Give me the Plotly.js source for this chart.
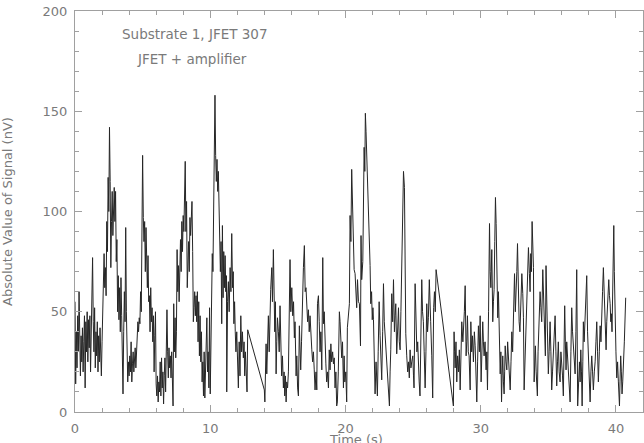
<!DOCTYPE html>
<html>
<head>
<meta charset="utf-8">
<script src="https://cdn.plot.ly/plotly-3.0.1.min.js"></script>
<style>html,body{margin:0;padding:0;background:#fff;}#chart{width:644px;height:443px;}</style>
</head>
<body>
<div id="chart"></div>
<script>
// Time (s)
const timeS = [
0.00,0.05,0.10,0.15,0.20,0.25,0.30,0.35,0.40,0.45,0.50,0.55,0.60,0.65,0.70,0.75,0.80,0.85,0.90,0.95,
1.00,1.05,1.10,1.15,1.20,1.25,1.30,1.35,1.40,1.45,1.50,1.55,1.60,1.65,1.70,1.75,1.80,1.85,1.90,1.95,
2.00,2.05,2.10,2.15,2.20,2.25,2.30,2.35,2.40,2.45,2.50,2.55,2.60,2.65,2.70,2.75,2.80,2.85,2.90,2.95,
3.00,3.05,3.10,3.15,3.20,3.25,3.30,3.35,3.40,3.45,3.50,3.55,3.60,3.65,3.70,3.75,3.80,3.85,3.90,3.95,
4.00,4.05,4.10,4.15,4.20,4.25,4.30,4.35,4.40,4.45,4.50,4.55,4.60,4.65,4.70,4.75,4.80,4.85,4.90,4.95,
5.00,5.05,5.10,5.15,5.20,5.25,5.30,5.35,5.40,5.45,5.50,5.55,5.60,5.65,5.70,5.75,5.80,5.85,5.90,5.95,
6.00,6.05,6.10,6.15,6.20,6.25,6.30,6.35,6.40,6.45,6.50,6.55,6.60,6.65,6.70,6.75,6.80,6.85,6.90,6.95,
7.00,7.05,7.10,7.15,7.20,7.25,7.30,7.35,7.40,7.45,7.50,7.55,7.60,7.65,7.70,7.75,7.80,7.85,7.90,7.95,
8.00,8.05,8.10,8.15,8.20,8.25,8.30,8.35,8.40,8.45,8.50,8.55,8.60,8.65,8.70,8.75,8.80,8.85,8.90,8.95,
9.00,9.05,9.10,9.15,9.20,9.25,9.30,9.35,9.40,9.45,9.50,9.55,9.60,9.65,9.70,9.75,9.80,9.85,9.90,9.95,
10.00,10.05,10.10,10.15,10.20,10.25,10.30,10.35,10.40,10.45,10.50,10.55,10.60,10.65,10.70,10.75,10.80,10.85,10.90,10.95,
11.00,11.05,11.10,11.15,11.20,11.22,11.28,11.34,11.40,11.47,11.53,11.59,11.65,11.70,11.75,11.80,11.85,11.90,11.96,12.02,
12.08,12.14,12.20,12.26,12.32,12.38,12.45,12.50,12.55,12.60,12.66,12.72,12.77,
14.00,14.04,14.08,14.13,14.18,14.23,14.30,14.36,14.42,14.47,14.55,14.60,14.67,14.72,14.77,14.82,14.87,14.92,14.97,15.04,
15.10,15.16,15.22,15.28,15.34,15.41,15.46,15.51,15.56,15.61,15.66,15.72,15.78,15.85,15.90,15.96,16.03,16.10,16.16,16.22,
16.27,16.35,16.40,16.46,16.52,16.59,16.64,16.69,16.75,16.81,16.89,16.96,17.02,17.08,17.14,17.20,17.26,17.32,17.38,17.45,
17.51,17.57,17.63,17.69,17.75,17.82,17.88,17.93,18.00,18.06,18.12,18.18,18.25,18.32,18.37,18.43,18.49,18.55,18.61,18.67,
18.74,18.80,18.86,18.92,18.98,19.05,19.11,19.17,19.23,19.29,19.35,19.40,19.47,19.55,19.60,19.65,19.72,19.78,19.85,19.90,
19.95,20.02,20.09,20.14,20.22,20.29,20.34,20.40,20.46,20.54,20.60,20.64,20.71,20.77,20.83,20.89,20.96,21.03,21.08,21.11,
21.15,21.20,21.28,21.33,21.38,21.43,21.47,21.52,21.57,21.65,21.72,21.82,21.87,21.93,21.98,22.03,22.07,22.13,22.19,22.26,
22.31,22.36,22.42,22.49,22.56,22.62,22.68,22.75,22.81,22.87,22.93,22.99,23.05,23.10,23.17,23.25,23.30,23.35,23.42,23.49,
23.55,23.62,23.67,23.72,23.79,23.85,23.92,23.98,24.04,24.10,24.16,24.22,24.29,24.36,24.41,24.46,24.53,24.60,24.66,24.72,
24.78,24.84,24.90,24.98,25.03,25.07,25.15,25.22,25.28,25.34,25.39,25.45,25.51,25.58,25.64,25.70,25.76,25.82,25.89,25.95,
26.01,26.07,26.13,26.20,26.25,26.30,26.38,26.45,26.52,26.58,26.64,26.70,
27.98,28.03,28.07,28.11,28.17,28.23,28.29,28.36,28.42,28.48,28.54,28.60,28.68,28.73,28.79,28.85,28.92,28.97,29.02,29.08,
29.14,29.22,29.27,29.33,29.39,29.46,29.53,29.59,29.65,29.71,29.77,29.83,29.90,29.96,30.03,30.09,30.15,30.20,30.25,30.32,
30.40,30.45,30.50,30.58,30.65,30.70,30.75,30.82,30.89,30.94,30.99,31.04,31.09,31.14,31.19,31.26,31.31,31.36,31.44,31.49,
31.54,31.58,31.63,31.68,31.73,31.77,31.81,31.87,31.93,31.99,32.05,32.11,32.18,32.24,32.30,32.36,32.42,32.50,32.56,32.62,
32.67,32.72,32.79,32.84,32.90,32.96,33.04,33.11,33.16,33.21,33.28,33.34,33.40,33.47,33.53,33.60,33.65,33.70,33.75,33.80,
33.85,33.90,33.95,34.00,34.04,34.10,34.19,34.24,34.29,34.34,34.39,34.45,34.51,34.59,34.64,34.68,34.73,34.78,34.83,34.88,
34.93,35.00,35.06,35.13,35.19,35.25,35.31,35.38,35.44,35.50,35.56,35.62,35.68,35.74,35.80,35.87,35.93,35.99,36.05,36.11,
36.16,36.21,36.26,36.31,36.36,36.41,36.47,36.53,36.61,36.67,36.73,36.79,36.85,36.92,36.98,37.04,37.10,37.17,37.23,37.30,
37.35,37.40,37.45,37.50,37.55,37.59,37.65,37.72,37.78,37.84,37.90,37.96,38.02,38.09,38.15,38.21,38.27,38.33,38.40,38.46,
38.52,38.58,38.64,38.70,38.77,38.83,38.89,38.95,39.01,39.07,39.13,39.20,39.27,39.32,39.37,39.42,39.47,39.52,39.57,39.62,
39.66,39.71,39.76,39.84,39.88,39.93,40.00,40.06,40.12,40.18,40.26,40.30,40.35,40.40,40.45,40.50,40.55,40.62,40.72
];
// Absolute value of signal (nV)
const signalNV = [
55,14,40,22,48,30,60,35,18,38,25,42,20,35,48,12,45,30,50,25,
46,32,48,20,42,55,77,45,30,52,22,40,28,45,20,38,25,42,30,18,
35,55,60,79,62,72,58,95,80,117,100,142,115,72,95,110,88,108,112,95,
110,75,86,50,68,46,62,40,67,48,30,9,40,60,45,92,50,25,15,25,
18,28,20,35,15,24,30,20,25,32,22,28,38,45,40,47,44,60,50,80,
128,97,85,95,70,92,80,62,78,55,58,40,62,45,52,35,48,20,38,50,
14,8,18,5,15,10,25,8,27,12,20,4,18,27,10,35,51,30,17,32,
22,28,17,30,20,3,54,30,47,27,40,81,60,73,55,78,86,70,95,80,
98,90,105,125,90,105,62,78,85,70,97,88,100,105,80,45,52,60,48,58,
45,60,35,55,28,48,25,40,15,25,8,30,7,20,35,47,20,30,12,52,
9,30,60,79,70,100,130,158,128,115,126,110,120,105,95,70,85,44,93,57,
80,62,78,60,68,10,55,65,50,72,60,89,62,70,44,55,40,30,40,25,
12,35,18,48,30,40,27,35,18,30,20,10,41,
11,5,25,34,19,30,48,30,55,61,72,55,81,67,40,55,19,35,47,40,
30,53,25,18,28,12,20,8,18,5,15,12,20,59,76,50,62,48,55,37,
45,18,28,12,8,43,30,21,35,54,72,83,60,62,50,45,51,40,48,35,
31,25,30,21,11,20,11,54,58,45,30,40,21,77,44,50,31,24,15,20,
12,31,21,34,25,30,24,27,12,20,3,5,20,50,45,39,27,35,12,28,
15,20,5,42,48,54,98,85,121,93,80,71,69,55,52,66,55,54,40,33,
88,66,75,98,132,120,149,140,130,108,91,73,54,60,46,52,46,25,9,25,
15,8,30,55,38,25,16,40,64,45,38,30,28,16,10,3,20,31,59,45,
66,40,48,54,29,40,52,35,31,50,74,95,120,112,72,39,28,20,25,17,
31,22,25,28,18,12,64,45,30,35,21,15,8,30,66,50,45,30,12,30,
54,40,47,66,59,45,28,7,52,60,50,71,
3,40,30,22,35,15,28,20,31,11,25,45,35,40,50,63,28,35,48,30,
28,11,45,30,38,25,40,33,20,5,25,43,30,48,15,30,45,35,28,35,
21,30,11,50,94,70,62,81,45,55,61,85,107,94,80,47,60,45,19,30,
5,18,28,15,9,20,33,25,21,35,27,20,11,25,40,30,48,69,50,59,
70,84,54,45,40,55,69,59,47,11,28,40,60,70,82,69,60,79,70,95,
85,72,15,25,33,20,8,30,45,50,60,52,45,71,60,52,40,28,73,60,
45,19,30,45,30,11,20,28,35,48,30,13,25,35,20,15,30,25,18,8,
30,53,35,21,35,28,20,11,5,30,52,40,31,25,19,40,71,3,20,25,
15,31,20,3,25,45,35,48,55,68,40,28,15,5,20,28,20,11,20,25,
35,45,30,15,30,43,35,54,60,72,55,45,31,45,54,60,66,58,54,45,
49,40,59,93,70,45,30,17,25,15,3,15,28,20,9,15,21,35,57
];
const xTickVals = [0, 10, 20, 30, 40];
const yTickVals = [0, 50, 100, 150, 200];
const noteLines = ["Substrate 1, JFET 307", "JFET + amplifier"];
const xTitle = 'Time (s)';
const yTitle = 'Absolute Value of Signal (nV)';

const axisCol = '#a0a0a0';
const textCol = '#7a7a7a';
const fontFam = '"DejaVu Sans", sans-serif';

const trace = {
  x: timeS, y: signalNV, type: 'scatter', mode: 'lines',
  line: {color: '#262626', width: 1}, hoverinfo: 'skip'
};

const layout = {
  width: 644, height: 443,
  margin: {l: 75, r: 1, t: 11, b: 31, pad: 0},
  paper_bgcolor: '#fff', plot_bgcolor: '#fff',
  showlegend: false,
  font: {family: fontFam, color: textCol, size: 13},
  xaxis: {
    range: [0, 42], showgrid: false, zeroline: false,
    showline: true, linecolor: axisCol, linewidth: 1, mirror: 'ticks',
    ticks: 'inside', ticklen: 7, tickcolor: axisCol, tickwidth: 1,
    tickvals: xTickVals, ticktext: xTickVals.map(String),
    ticklabelstandoff: 4,
    minor: {dtick: 2, tick0: 0, ticks: 'inside', ticklen: 4, tickcolor: axisCol, showgrid: false},
    tickfont: {size: 13, color: textCol}, automargin: false
  },
  yaxis: {
    range: [0, 200], showgrid: false, zeroline: false,
    showline: true, linecolor: axisCol, linewidth: 1, mirror: 'ticks',
    ticks: 'inside', ticklen: 7, tickcolor: axisCol, tickwidth: 1,
    tickvals: yTickVals, ticktext: yTickVals.map(String),
    ticklabelstandoff: 4,
    minor: {dtick: 10, tick0: 0, ticks: 'inside', ticklen: 4, tickcolor: axisCol, showgrid: false},
    title: {text: yTitle, font: {size: 13, color: textCol}, standoff: 30},
    tickfont: {size: 13, color: textCol}, automargin: false
  },
  annotations: [
    {xref: 'paper', yref: 'paper', x: 0.211, y: 0.943, text: noteLines[0], showarrow: false,
     xanchor: 'center', yanchor: 'middle', font: {size: 13.5, color: textCol}},
    {xref: 'paper', yref: 'paper', x: 0.206, y: 0.880, text: noteLines[1], showarrow: false,
     xanchor: 'center', yanchor: 'middle', font: {size: 13.5, color: textCol}},
    {xref: 'paper', yref: 'paper', x: 0.495, y: -0.069, text: xTitle, showarrow: false,
     xanchor: 'center', yanchor: 'middle', font: {size: 13, color: textCol}}
  ]
};

Plotly.newPlot('chart', [trace], layout, {staticPlot: true, displayModeBar: false});
</script>
</body>
</html>
